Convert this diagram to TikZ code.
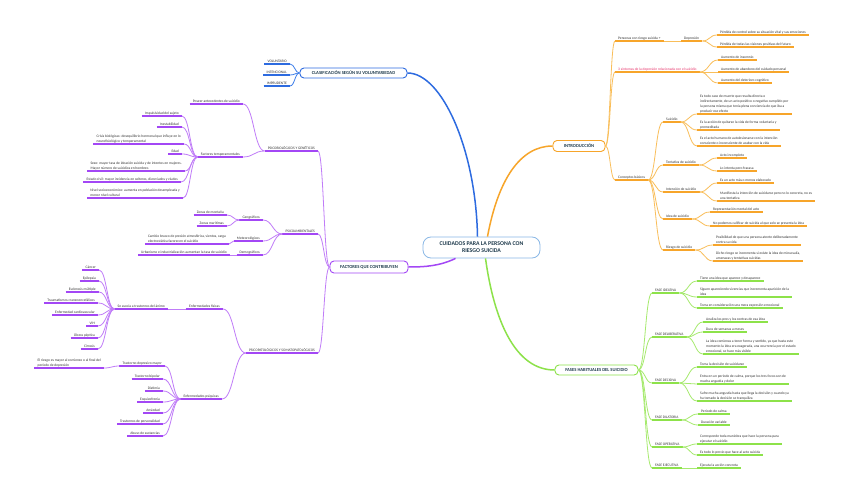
\documentclass[tikz,border=0pt]{standalone}
\usepackage{fontspec}
\setmainfont{Carlito}
\usetikzlibrary{calc}
\definecolor{txt}{HTML}{333333}
\definecolor{ttl}{HTML}{1E3A4C}
\definecolor{cB}{HTML}{2D6BE0}
\definecolor{cBl}{HTML}{3F7FEA}
\definecolor{cP}{HTML}{A347F5}
\definecolor{cPl}{HTML}{C07CF8}
\definecolor{cO}{HTML}{F7A52A}
\definecolor{cOl}{HTML}{F9BE5A}
\definecolor{cG}{HTML}{8DE24A}
\definecolor{cGl}{HTML}{A6EA6E}
\definecolor{cC}{HTML}{8AB8E6}
\definecolor{redt}{HTML}{E8336B}
\tikzset{
  lf/.style={font=\fontsize{3.6}{4.9}\selectfont, text=txt, inner xsep=3pt, inner ysep=1.1pt, align=left},
  ul/.style={line width=1.1pt, draw=#1},
  cl/.style={line width=0.8pt, draw=#1},
  ml/.style={line width=1.5pt, draw=#1},
  mbox/.style={draw=#1, line width=0.9pt, rounded corners=4pt, fill=white,
    font=\bfseries\fontsize{4.6}{5}\selectfont, text=ttl, inner sep=0pt, minimum height=10pt},
}
\newcommand\lfL[5]{\node[lf,anchor=south east] (#1) at (#3,#4) {#5}; \draw[ul=#2] (#1.south west) -- (#1.south east);}
\newcommand\lfR[5]{\node[lf,anchor=south west] (#1) at (#3,#4) {#5}; \draw[ul=#2] (#1.south west) -- (#1.south east);}
\newcommand\cn[3]{\draw[cl=#1] let \p1=(#2), \p2=(#3), \p3=($(\p1)!0.5!(\p2)$) in (\p1) .. controls (\x3,\y1) and (\x3,\y2) .. (\p2);}
\begin{document}
\begin{tikzpicture}[x=1pt,y=-1pt]
\useasboundingbox (0,0) rectangle (848,497);
\fill[white] (0,0) rectangle (848,497);

% ---------- center ----------
\node[draw=cC, line width=0.8pt, rounded corners=8pt, fill=white, minimum width=117pt, minimum height=21pt,
  font=\bfseries\fontsize{5.8}{7}\selectfont, text=ttl, align=center, inner sep=0pt] (ctr) at (481.5,247.5)
  {CUIDADOS PARA LA PERSONA CON\\RIESGO SUICIDA};

% ---------- main boxes ----------
\node[mbox=cB, minimum width=107pt] (clas) at (353.5,73) {CLASIFICACIÓN SEGÚN SU VOLUNTARIEDAD};
\node[mbox=cP, minimum width=78pt, minimum height=12pt] (fact) at (369,267) {FACTORES QUE CONTRIBUYEN};
\node[mbox=cO, minimum width=52pt, minimum height=11pt] (intro) at (579,146) {INTRODUCCIÓN};
\node[mbox=cG, minimum width=83pt] (fases) at (596.5,370) {FASES HABITUALES DEL SUICIDIO};

\draw[ml=cB] (clas.east) .. controls (442,73) and (476,150) .. ($(ctr.north)+(-4,0)$);
\draw[ml=cO] ($(ctr.north)+(6,0)$) .. controls (498,180) and (520,146) .. (intro.west);
\draw[ml=cG] ($(ctr.south)+(4,0)$) .. controls (494,320) and (515,370) .. (fases.west);
\draw[ml=cP] ($(ctr.south)+(-26,0)$) .. controls (440,266) and (425,267) .. (fact.east);

% ---------- blue branch ----------
\lfL{vol}{cB}{290}{64}{VOLUNTARIO}
\lfL{inte}{cB}{290}{75}{INTENCIONAL}
\lfL{impr}{cB}{290}{86}{IMPRUDENTE}
\cn{cBl}{vol.south east}{clas.west}
\cn{cBl}{inte.south east}{clas.west}
\cn{cBl}{impr.south east}{clas.west}

% ---------- purple branch ----------
\lfL{pbio}{cP}{318}{151}{PSICOBIOLÓGICOS Y GENÉTICOS}
\lfL{pamb}{cP}{318}{234}{PSICOAMBIENTALES}
\lfL{ppat}{cP}{318}{353}{PSICOPATOLÓGICOS Y SOMATOPATOLÓGICOS}
\cn{cPl}{pbio.south east}{fact.west}
\cn{cPl}{pamb.south east}{fact.west}
\cn{cPl}{ppat.south east}{fact.west}

\lfL{pos}{cP}{243}{104}{Poseer antecedentes de suicidio}
\lfL{ftem}{cP}{243}{157}{Factores temperamentales}
\cn{cPl}{pos.south east}{pbio.south west}
\cn{cPl}{ftem.south east}{pbio.south west}

\lfL{impu}{cP}{182}{116}{Impulsividad del sujeto}
\lfL{ines}{cP}{182}{127}{Inestabilidad}
\lfL{cris}{cP}{184}{144}{Crisis biológicas: desequilibrio hormonal que influye en lo\\neurofisiológico y temperamental}
\lfL{edad}{cP}{182}{154}{Edad}
\lfL{sexo}{cP}{185}{171}{Sexo: mayor tasa de ideación suicida y de intentos en mujeres.\\Mayor número de suicidios en hombres}
\lfL{civ}{cP}{181}{182}{Estado civil: mayor incidencia en solteros, divorciados y viudos}
\lfL{niv}{cP}{183}{198}{Nivel socioeconómico: aumenta en población desempleada y\\menor nivel cultural}
\foreach \q in {impu,ines,cris,edad,sexo,civ,niv}{\cn{cPl}{\q.south east}{ftem.south west}}

\lfL{geo}{cP}{263}{220}{Geográficos}
\lfL{met}{cP}{263}{241}{Meteorológicos}
\lfL{dem}{cP}{263}{255}{Demográficos}
\foreach \q in {geo,met,dem}{\cn{cPl}{\q.south east}{pamb.south west}}
\lfL{mont}{cP}{227}{215}{Zonas de montaña}
\lfL{mar}{cP}{227}{226}{Zonas marítimas}
\cn{cPl}{mont.south east}{geo.south west}
\cn{cPl}{mar.south east}{geo.south west}
\lfL{camb}{cP}{229}{244}{Cambio brusco de presión atmosférica, vientos, carga\\electrostática favorecen el suicidio}
\cn{cPl}{camb.south east}{met.south west}
\lfL{urb}{cP}{230}{255}{Urbanismo e industrialización aumentan la tasa de suicidio}
\cn{cPl}{urb.south east}{dem.south west}

\lfL{efis}{cP}{223}{309}{Enfermedades físicas}
\lfL{epsi}{cP}{222}{399}{Enfermedades psíquicas}
\cn{cPl}{efis.south east}{ppat.south west}
\cn{cPl}{epsi.south east}{ppat.south west}
\lfL{asoc}{cP}{168}{309}{Se asocia a trastornos del ánimo}
\cn{cPl}{asoc.south east}{efis.south west}

\lfL{can}{cP}{99}{270}{Cáncer}
\lfL{epi}{cP}{99}{281}{Epilepsia}
\lfL{escl}{cP}{99}{292}{Esclerosis múltiple}
\lfL{trau}{cP}{98}{303}{Traumatismos craneoencefálicos}
\lfL{card}{cP}{98}{315}{Enfermedad cardiovascular}
\lfL{vih}{cP}{98}{326}{VIH}
\lfL{ulc}{cP}{98}{338}{Úlcera péptica}
\lfL{cirr}{cP}{98}{349}{Cirrosis}
\foreach \q in {can,epi,escl,trau,card,vih,ulc,cirr}{\cn{cPl}{\q.south east}{asoc.south west}}

\lfL{tdm}{cP}{165}{366}{Trastorno depresivo mayor}
\lfL{tbip}{cP}{163}{379}{Trastorno bipolar}
\lfL{dist}{cP}{163}{391}{Distimia}
\lfL{esq}{cP}{163}{402}{Esquizofrenia}
\lfL{ans}{cP}{163}{413}{Ansiedad}
\lfL{tper}{cP}{163}{424}{Trastornos de personalidad}
\lfL{abus}{cP}{163}{436}{Abuso de sustancias}
\foreach \q in {tdm,tbip,dist,esq,ans,tper,abus}{\cn{cPl}{\q.south east}{epsi.south west}}
\lfL{ries0}{cP}{104}{368}{El riesgo es mayor al comienzo o al final del\\período de depresión}
\cn{cPl}{ries0.south east}{tdm.south west}

% ---------- orange branch ----------
\lfR{pers}{cO}{615}{41}{Personas con riesgo suicida +}
\node[lf,anchor=south west,text=redt] (sint) at (615,72) {3 síntomas de la depresión relacionada con el suicidio};
\draw[ul=cO] (sint.south west) -- (sint.south east);
\lfR{conc}{cO}{615}{180}{Conceptos básicos}
\foreach \q in {pers,sint,conc}{\cn{cOl}{intro.east}{\q.south west}}

\lfR{dep}{cO}{681}{41}{Depresión}
\cn{cOl}{pers.south east}{dep.south west}
\lfR{pc}{cO}{717}{35}{Pérdida de control sobre su situación vital y sus emociones}
\lfR{pt}{cO}{717}{47}{Pérdida de todas las visiones positivas del futuro}
\cn{cOl}{dep.south east}{pc.south west}
\cn{cOl}{dep.south east}{pt.south west}

\lfR{a1}{cO}{718}{60}{Aumento de insomnio}
\lfR{a2}{cO}{718}{72}{Aumento de abandono del cuidado personal}
\lfR{a3}{cO}{718}{83}{Aumento del deterioro cognitivo}
\foreach \q in {a1,a2,a3}{\cn{cOl}{sint.south east}{\q.south west}}

\lfR{sui}{cO}{663}{122}{Suicidio}
\lfR{tent}{cO}{663}{165}{Tentativa de suicidio}
\lfR{intc}{cO}{663}{192}{Intención de suicidio}
\lfR{idea}{cO}{663}{219}{Idea de suicidio}
\lfR{ries}{cO}{663}{250}{Riesgo de suicidio}
\foreach \q in {sui,tent,intc,idea,ries}{\cn{cOl}{conc.south east}{\q.south west}}

\lfR{s1}{cO}{697}{114}{Es todo caso de muerte que resulta directa o\\indirectamente, de un acto positivo o negativo cumplido por\\la persona misma que tenía plena conciencia de que iba a\\producir ese efecto}
\lfR{s2}{cO}{697}{130}{Es la acción de quitarse la vida de forma voluntaria y\\premeditada}
\lfR{s3}{cO}{697}{146}{Es el acto humano de autolesionarse con la intención\\consciente o inconsciente de acabar con la vida}
\foreach \q in {s1,s2,s3}{\cn{cOl}{sui.south east}{\q.south west}}

\lfR{t1}{cO}{717}{158}{Acto incompleto}
\lfR{t2}{cO}{717}{171}{Lo intenta pero fracasa}
\cn{cOl}{tent.south east}{t1.south west}
\cn{cOl}{tent.south east}{t2.south west}

\lfR{i1}{cO}{717}{183}{Es un acto más o menos elaborado}
\lfR{i2}{cO}{717}{201}{Manifiesta la intención de suicidarse pero no lo concreta, no es\\una tentativa}
\cn{cOl}{intc.south east}{i1.south west}
\cn{cOl}{intc.south east}{i2.south west}

\lfR{d1}{cO}{710}{212}{Representación mental del acto}
\lfR{d2}{cO}{710}{226}{No podemos calificar de suicida al que solo se presenta la idea}
\cn{cOl}{idea.south east}{d1.south west}
\cn{cOl}{idea.south east}{d2.south west}

\lfR{r1}{cO}{713}{245}{Posibilidad de que una persona atente deliberadamente\\contra su vida}
\lfR{r2}{cO}{713}{261}{Dicho riesgo se incrementa si existe la idea de minusvalía,\\amenazas y tentativas suicidas}
\cn{cOl}{ries.south east}{r1.south west}
\cn{cOl}{ries.south east}{r2.south west}

% ---------- green branch ----------
\lfR{fid}{cG}{652}{293}{FASE IDEATIVA}
\lfR{fdel}{cG}{652}{337}{FASE DELIBERATIVA}
\lfR{fdec}{cG}{652}{383}{FASE DECISIVA}
\lfR{fdil}{cG}{652}{420}{FASE DILATORIA}
\lfR{fop}{cG}{652}{447}{FASE OPERATIVA}
\lfR{fej}{cG}{652}{468}{FASE EJECUTIVA}
\foreach \q in {fid,fdel,fdec,fdil,fop,fej}{\cn{cGl}{fases.east}{\q.south west}}

\lfR{g1}{cG}{697}{281}{Tiene una idea que aparece y desaparece}
\lfR{g2}{cG}{697}{297}{Siguen apareciendo vivencias que incrementa aparición de la\\idea}
\lfR{g3}{cG}{697}{308}{Toma en consideración una mera expresión emocional}
\foreach \q in {g1,g2,g3}{\cn{cGl}{fid.south east}{\q.south west}}

\lfR{h1}{cG}{703}{322}{Analiza los pros y los contras de esa idea}
\lfR{h2}{cG}{703}{332}{Dura de semanas a meses}
\lfR{h3}{cG}{703}{354}{La idea comienza a tener forma y sentido, ya que hasta este\\momento la idea era exagerada, una ocurrencia por el estado\\emocional, se hace más visible}
\foreach \q in {h1,h2,h3}{\cn{cGl}{fdel.south east}{\q.south west}}

\lfR{k1}{cG}{697}{367}{Toma la decisión de suicidarse}
\lfR{k2}{cG}{697}{384}{Entra en un periodo de calma, porque los tres focos son de\\mucha angustia y dolor}
\lfR{k3}{cG}{697}{401}{Sufre mucha angustia hasta que llega la decisión y cuando ya\\ha tomado la decisión se tranquiliza}
\foreach \q in {k1,k2,k3}{\cn{cGl}{fdec.south east}{\q.south west}}

\lfR{l1}{cG}{698}{414}{Periodo de calma}
\lfR{l2}{cG}{698}{425}{Duración variable}
\cn{cGl}{fdil.south east}{l1.south west}
\cn{cGl}{fdil.south east}{l2.south west}

\lfR{o1}{cG}{697}{444}{Corresponde toda maniobra que hace la persona para\\ejecutar el suicidio}
\lfR{o2}{cG}{697}{455}{Es todo lo previo que hace al acto suicida}
\cn{cGl}{fop.south east}{o1.south west}
\cn{cGl}{fop.south east}{o2.south west}

\lfR{e1}{cG}{697}{468}{Ejecuta la acción concreta}
\cn{cGl}{fej.south east}{e1.south west}
\end{tikzpicture}
\end{document}
